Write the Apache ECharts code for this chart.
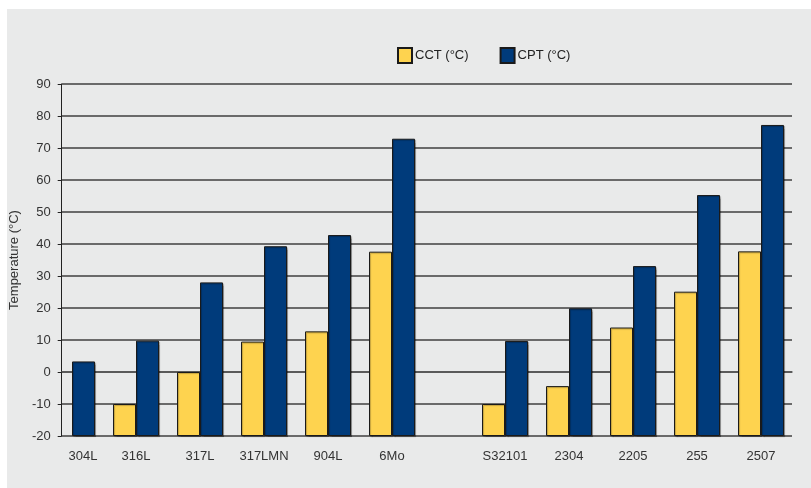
<!DOCTYPE html>
<html>
<head>
<meta charset="utf-8">
<script src="https://cdn.jsdelivr.net/npm/echarts@6/dist/echarts.min.js"></script>
<style>
html, body { margin: 0; padding: 0; background: #fff; }
#chart { width: 811px; height: 488px; }
</style>
</head>
<body>
<div id="chart"></div>
<script>
// austenitic grades (left group) and duplex grades (right group)
var gradesA = ['304L', '316L', '317L', '317LMN', '904L', '6Mo'];
var gradesB = ['S32101', '2304', '2205', '255', '2507'];
var cctA = [null, -10, 0, 9.5, 12.7, 37.6];
var cptA = [3.3, 9.8, 28, 39.3, 42.8, 72.9];
var cctB = [-10, -4.4, 13.9, 25.1, 37.7];
var cptB = [9.7, 19.9, 33.1, 55.3, 77.2];
var yMin = -20, yMax = 90, yStep = 10;

var font = "'Liberation Sans Narrow', 'Liberation Sans', Arial, sans-serif";
var yellow = '#fed34f';
var blue = '#003b7b';

function barStyle(color) {
    return {
        color: color,
        borderColor: '#1a1a1a',
        borderWidth: 1,
        shadowColor: 'rgba(0,0,0,0.25)',
        shadowOffsetX: 1,
        shadowOffsetY: 1,
        shadowBlur: 1
    };
}

function hiddenY(idx) {
    return {
        type: 'value', gridIndex: idx, min: yMin, max: yMax, interval: yStep,
        startValue: yMin,
        show: false, splitLine: { show: false }
    };
}

function groupX(idx, names) {
    // first label of the left group sits a bit right of its bar pair
    var data = names.map(function (n, i) {
        if (idx === 1 && i === 0) {
            return { value: n, textStyle: { padding: [0, 0, 0, 22] } };
        }
        return n;
    });
    return {
        type: 'category', gridIndex: idx, data: data,
        axisLine: { show: false }, axisTick: { show: false },
        axisLabel: { color: '#333', fontFamily: font, fontSize: 13, margin: 14 }
    };
}

var chart = echarts.init(document.getElementById('chart'));
chart.setOption({
    backgroundColor: '#fff',
    animation: false,
    graphic: [{
        type: 'rect', z: -10, silent: true,
        shape: { x: 7, y: 9, width: 804, height: 479 },
        style: { fill: '#e9eaea' }
    }],
    legend: {
        top: 42, left: 392,
        itemWidth: 14, itemHeight: 15, itemGap: 31,
        icon: 'rect',
        textStyle: { fontFamily: font, fontSize: 13, color: '#222', padding: [0, 0, 0, -2] },
        data: ['CCT (°C)', 'CPT (°C)']
    },
    grid: [
        { left: 61, right: 19, top: 84, bottom: 52 },
        { left: 40, width: 384, top: 84, bottom: 52 },
        { left: 473, width: 320, top: 84, bottom: 52 }
    ],
    xAxis: [
        {
            type: 'category', gridIndex: 0, data: [''],
            axisLine: { lineStyle: { color: '#555', width: 1.5 } },
            axisTick: { show: false }, axisLabel: { show: false }
        },
        groupX(1, gradesA),
        groupX(2, gradesB)
    ],
    yAxis: [
        {
            type: 'value', gridIndex: 0, min: yMin, max: yMax, interval: yStep,
            name: 'Temperature (°C)',
            nameLocation: 'middle', nameGap: 40,
            nameTextStyle: { fontFamily: font, fontSize: 13, color: '#333' },
            axisLine: { show: true, lineStyle: { color: '#222', width: 1 } },
            axisTick: { show: true, length: 4, lineStyle: { color: '#222' } },
            axisLabel: { color: '#333', fontFamily: font, fontSize: 13, margin: 11 },
            splitLine: { lineStyle: { color: '#3f3f3f', width: 1.5 } }
        },
        hiddenY(1),
        hiddenY(2)
    ],
    series: [
        { name: 'CCT (°C)', type: 'bar', xAxisIndex: 1, yAxisIndex: 1, data: cctA,
          barWidth: 23, barGap: '0%', itemStyle: barStyle(yellow) },
        { name: 'CPT (°C)', type: 'bar', xAxisIndex: 1, yAxisIndex: 1, data: cptA,
          barWidth: 23, barGap: '0%', itemStyle: barStyle(blue) },
        { name: 'CCT (°C)', type: 'bar', xAxisIndex: 2, yAxisIndex: 2, data: cctB,
          barWidth: 23, barGap: '0%', itemStyle: barStyle(yellow) },
        { name: 'CPT (°C)', type: 'bar', xAxisIndex: 2, yAxisIndex: 2, data: cptB,
          barWidth: 23, barGap: '0%', itemStyle: barStyle(blue) }
    ]
});
</script>
</body>
</html>
